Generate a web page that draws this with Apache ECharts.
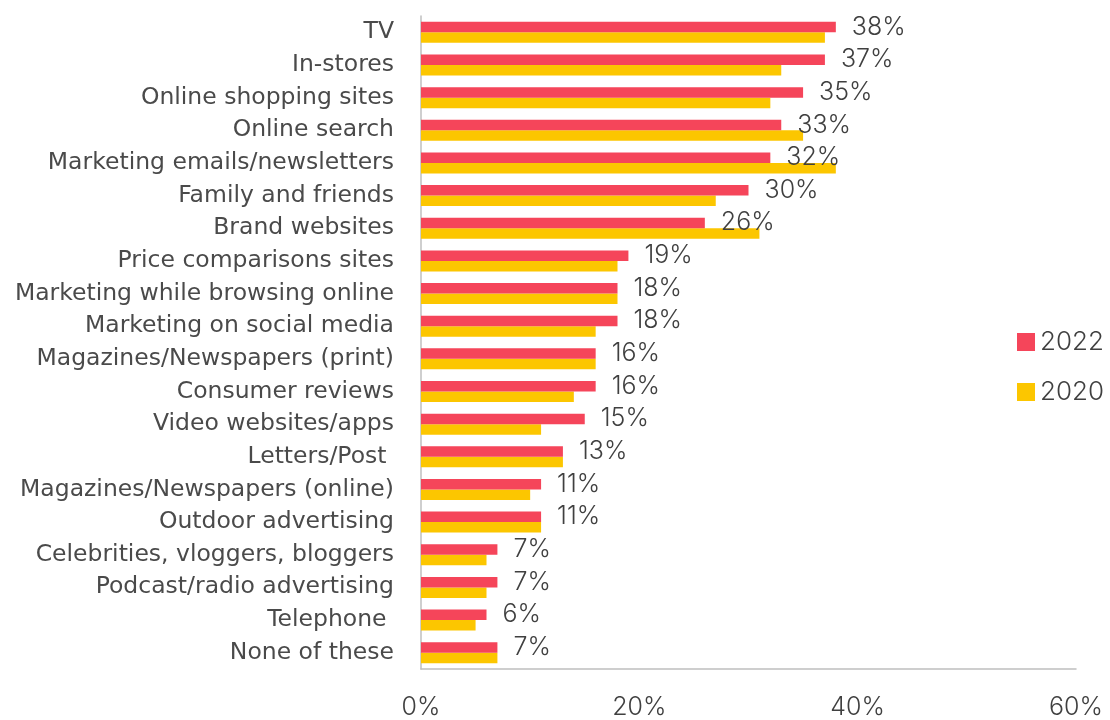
<!DOCTYPE html>
<html>
<head>
<meta charset="utf-8">
<script src="https://cdn.jsdelivr.net/npm/echarts@6/dist/echarts.min.js"></script>
<style>
  html, body { margin: 0; padding: 0; background: #ffffff; }
  #chart { width: 1110px; height: 720px; }
</style>
</head>
<body>
<div id="chart"></div>
<script>
// Where consumers notice advertising: share of respondents, 2022 vs 2020
const categories = [
  'TV',
  'In-stores',
  'Online shopping sites',
  'Online search',
  'Marketing emails/newsletters',
  'Family and friends',
  'Brand websites',
  'Price comparisons sites',
  'Marketing while browsing online',
  'Marketing on social media',
  'Magazines/Newspapers (print)',
  'Consumer reviews',
  'Video websites/apps',
  'Letters/Post ',
  'Magazines/Newspapers (online)',
  'Outdoor advertising',
  'Celebrities, vloggers, bloggers',
  'Podcast/radio advertising',
  'Telephone ',
  'None of these'
];
const values2022 = [38, 37, 35, 33, 32, 30, 26, 19, 18, 18, 16, 16, 15, 13, 11, 11, 7, 7, 6, 7];
const values2020 = [37, 33, 32, 35, 38, 27, 31, 18, 18, 16, 16, 14, 11, 13, 10, 11, 6, 6, 5, 7];
const xTicks = [0, 20, 40, 60];

const FONT = 'Inter';
const CAT_FONT = '"DejaVu Sans"';
const TEXT = '#404040';
const AXIS = '#BFBFBF';

const chart = echarts.init(document.getElementById('chart'), null, { renderer: 'canvas' });

chart.setOption({
  animation: false,
  backgroundColor: '#ffffff',
  textStyle: { fontFamily: FONT, color: TEXT },
  grid: { left: 421, right: 34, top: 16, bottom: 50, containLabel: false },
  legend: {
    orient: 'vertical',
    left: 1012,
    top: 324,
    itemWidth: 18,
    itemHeight: 18,
    itemGap: 24,
    icon: 'rect',
    textStyle: { fontFamily: FONT, fontSize: 26, fontWeight: 300, color: TEXT, padding: [0, 0, 0, 0] },
    data: ['2022', '2020']
  },
  xAxis: {
    type: 'value',
    min: xTicks[0],
    max: xTicks[xTicks.length - 1],
    interval: xTicks[1] - xTicks[0],
    axisLine: { show: true, lineStyle: { color: AXIS, width: 1.5 } },
    axisTick: { show: false },
    splitLine: { show: false },
    axisLabel: {
      formatter: '{value}%',
      fontFamily: FONT,
      fontSize: 25,
      fontWeight: 300,
      color: TEXT,
      margin: 26
    }
  },
  yAxis: {
    type: 'category',
    inverse: true,
    data: categories,
    axisLine: { show: true, lineStyle: { color: AXIS, width: 1.5 } },
    axisTick: { show: false },
    axisLabel: {
      fontFamily: CAT_FONT,
      fontSize: 23.5,
      color: '#4a4a4a',
      margin: 27
    }
  },
  series: [
    {
      name: '2022',
      type: 'bar',
      data: values2022,
      barWidth: 10.5,
      barGap: '0%',
      itemStyle: { color: '#F5455A' },
      label: {
        show: true,
        position: 'right',
        distance: 16,
        formatter: '{c}%',
        fontFamily: FONT,
        fontSize: 25,
        fontWeight: 300,
        color: TEXT
      }
    },
    {
      name: '2020',
      type: 'bar',
      data: values2020,
      barWidth: 10.5,
      barGap: '0%',
      itemStyle: { color: '#FCC600' },
      z: 1
    }
  ]
});
</script>
</body>
</html>
